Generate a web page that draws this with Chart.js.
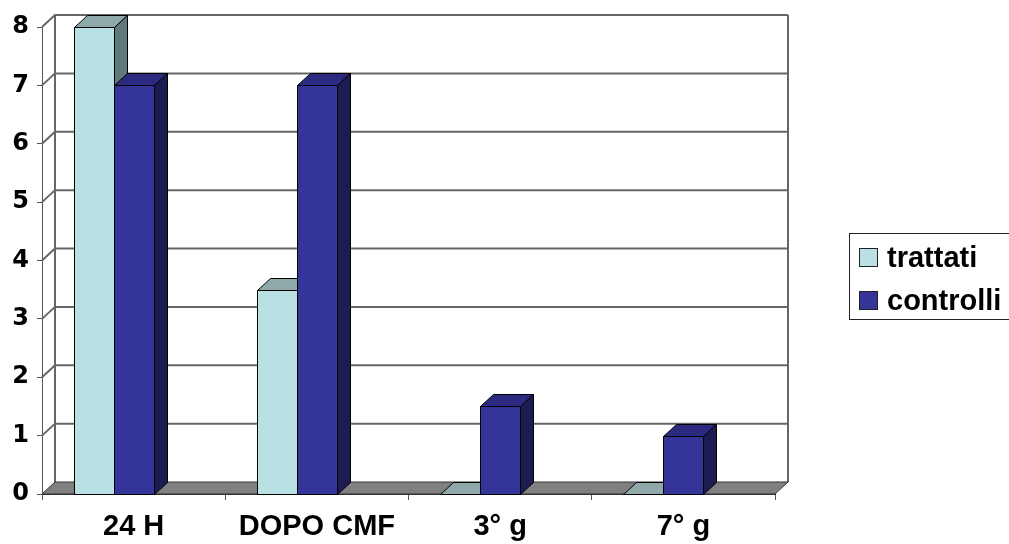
<!DOCTYPE html>
<html lang="it">
<head>
<meta charset="utf-8">
<title>trattati / controlli</title>
<script src="https://cdn.jsdelivr.net/npm/chart.js@4.4.1/dist/chart.umd.min.js"></script>
<style>
  html, body { margin: 0; padding: 0; background: #fff; }
</style>
</head>
<body>
<canvas id="grafico" width="1009" height="544"></canvas>
<script>
// Dati
const categorie = ['24 H', 'DOPO CMF', '3° g', '7° g'];
const trattati  = [8, 3.5, 0, 0];
const controlli = [7, 7, 1.5, 1];
const tickY     = [0, 1, 2, 3, 4, 5, 6, 7, 8];

const COL_TRATT = { front: '#b9e1e4', top: '#8fa9aa', side: '#5f7a7b' };
const COL_CONTR = { front: '#353599', top: '#2b2a80', side: '#1d1c52' };
const DX = 13, DY = -12;   // profondità 3D
const SHIFT = -20;         // barre spostate a sinistra come nel grafico originale
const FONT = "'Liberation Sans', Arial, sans-serif";
const FONT_Y = "'DejaVu Sans', Verdana, sans-serif";

function poly(ctx, pts, fill) {
  ctx.beginPath();
  ctx.moveTo(pts[0][0], pts[0][1]);
  for (let i = 1; i < pts.length; i++) ctx.lineTo(pts[i][0], pts[i][1]);
  ctx.closePath();
  ctx.fillStyle = fill;
  ctx.fill();
  ctx.stroke();
}

// pareti, griglia e pavimento 3D
const scatola = {
  id: 'scatola',
  beforeDatasetsDraw(chart) {
    const { ctx, chartArea: a, scales: { y } } = chart;
    ctx.save();
    ctx.strokeStyle = '#666';
    ctx.lineWidth = 2;
    const yTop = y.getPixelForValue(tickY[tickY.length - 1]);
    tickY.forEach(v => {
      if (v === 0) return;
      const py = y.getPixelForValue(v);
      ctx.beginPath();
      ctx.moveTo(a.left, py);
      ctx.lineTo(a.left + DX, py + DY);
      ctx.lineTo(a.right + DX, py + DY);
      ctx.stroke();
    });
    ctx.beginPath();
    ctx.moveTo(a.left + DX, yTop + DY);
    ctx.lineTo(a.left + DX, a.bottom + DY);
    ctx.moveTo(a.right + DX, yTop + DY);
    ctx.lineTo(a.right + DX, a.bottom + DY);
    ctx.stroke();
    // pavimento
    ctx.lineWidth = 1;
    ctx.strokeStyle = '#333';
    poly(ctx, [[a.left, a.bottom], [a.right, a.bottom], [a.right + DX, a.bottom + DY], [a.left + DX, a.bottom + DY]], '#808080');
    ctx.restore();
  },
  beforeDatasetDraw() {
    return false; // le barre sono disegnate sotto, in 3D
  },
  afterDatasetsDraw(chart) {
    const { ctx } = chart;
    const colori = [COL_TRATT, COL_CONTR];
    const metas = chart.data.datasets.map((d, i) => chart.getDatasetMeta(i));
    ctx.save();
    ctx.strokeStyle = '#000';
    ctx.lineWidth = 1;
    categorie.forEach((c, j) => {
      metas.forEach((m, i) => {
        const b = m.data[j];
        const { x, y, base, width } = b.getProps(['x', 'y', 'base', 'width'], true);
        const l = Math.round(x - width / 2 + SHIFT) + 0.5;
        const r = Math.round(x + width / 2 + SHIFT) + 0.5;
        const t = Math.round(y) + 0.5, bt = Math.round(base) + 0.5;
        const col = colori[i];
        poly(ctx, [[l, t], [r, t], [r, bt], [l, bt]], col.front);
        poly(ctx, [[l, t], [r, t], [r + DX, t + DY], [l + DX, t + DY]], col.top);
        poly(ctx, [[r, t], [r + DX, t + DY], [r + DX, bt + DY], [r, bt]], col.side);
      });
    });
    ctx.restore();
  },
  afterDraw(chart) {
    // legenda
    const { ctx } = chart;
    ctx.save();
    ctx.strokeStyle = '#222';
    ctx.lineWidth = 1;
    ctx.strokeRect(849.5, 233.5, 200, 86);
    ctx.font = 'bold 29px ' + FONT;
    ctx.textBaseline = 'alphabetic';
    chart.data.datasets.forEach((ds, i) => {
      const yy = 248 + i * 43;
      ctx.fillStyle = ds.backgroundColor;
      ctx.fillRect(859.5, yy + 0.5, 18, 18);
      ctx.strokeRect(859.5, yy + 0.5, 18, 18);
      ctx.fillStyle = '#000';
      ctx.fillText(ds.label, 887, yy + 19);
    });
    ctx.restore();
  }
};

new Chart(document.getElementById('grafico'), {
  type: 'bar',
  data: {
    labels: categorie,
    datasets: [
      { label: 'trattati', data: trattati, backgroundColor: COL_TRATT.front },
      { label: 'controlli', data: controlli, backgroundColor: COL_CONTR.front }
    ]
  },
  options: {
    responsive: false,
    animation: false,
    categoryPercentage: 0.437,
    barPercentage: 1,
    layout: { padding: { left: 0, top: 27, right: 234, bottom: 0 } },
    plugins: { legend: { display: false }, tooltip: { enabled: false } },
    scales: {
      x: {
        afterFit: s => { s.height = 50; },
        grid: { drawOnChartArea: false, tickLength: 6, color: '#555', offset: true },
        border: { color: '#333' },
        ticks: { color: '#000', padding: 10, font: { family: FONT, size: 29, weight: 'bold' } }
      },
      y: {
        min: 0, max: 8,
        afterFit: s => { s.width = 42; },
        afterBuildTicks: s => { s.ticks = tickY.map(v => ({ value: v })); },
        grid: { drawOnChartArea: false, tickLength: 5, color: '#555' },
        border: { color: '#555' },
        ticks: { color: '#000', padding: 8, font: { family: FONT_Y, size: 24, weight: 'bold' } }
      }
    }
  },
  plugins: [scatola]
});
</script>
</body>
</html>
